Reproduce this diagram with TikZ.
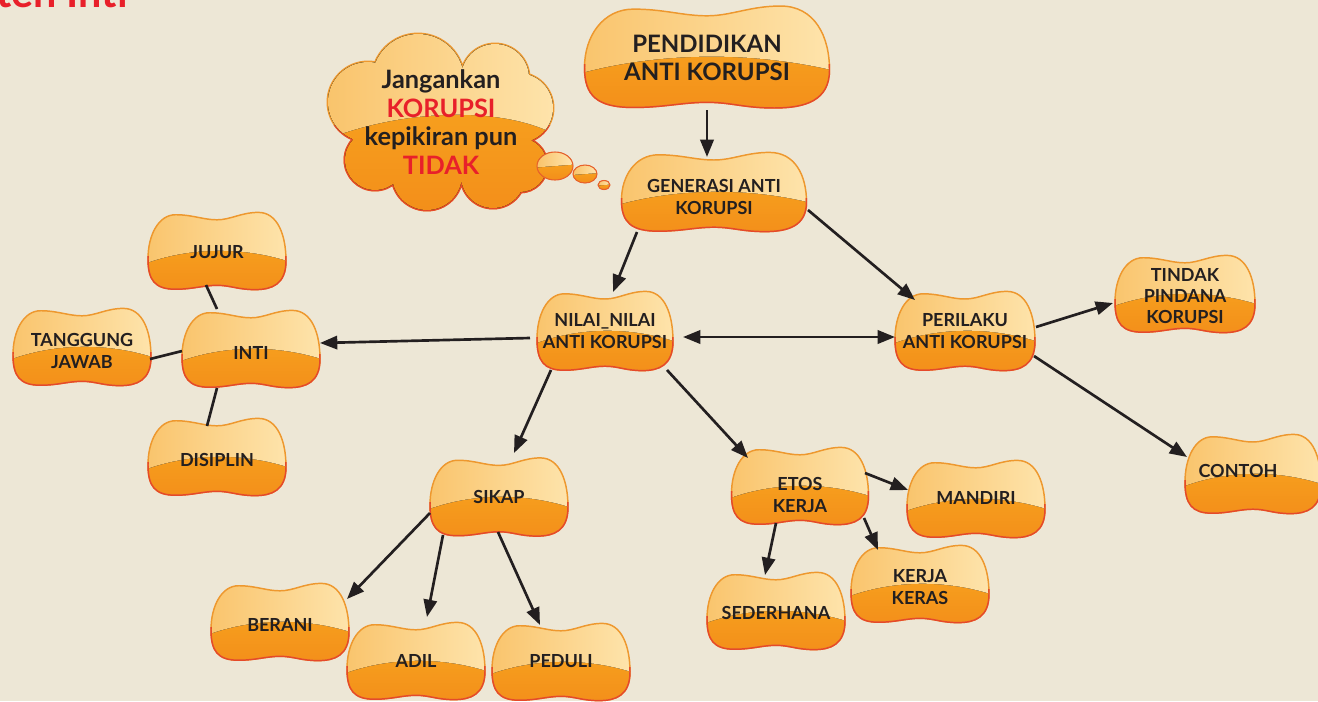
\documentclass[tikz,border=0pt]{standalone}
\usepackage{fontspec}
\setmainfont{Lato}
\usetikzlibrary{arrows.meta}

\definecolor{bg}{HTML}{EDE7D6}
\definecolor{ink}{HTML}{231F20}
\definecolor{alert}{HTML}{E8202A}
\definecolor{glossL}{HTML}{F9C36A}
\definecolor{glossR}{HTML}{FEE5AE}
\definecolor{bodyT}{HTML}{F9AC20}
\definecolor{bodyB}{HTML}{F38E1A}
\definecolor{rimT}{HTML}{EE982E}
\definecolor{rimB}{HTML}{E5492A}

% outline of a bean-shaped bubble in a unit box [-1,1]x[-1,1], y up
\def\blobP{(-1,-0.2) .. controls (-1,0.4) and (-0.85,0.93) .. (-0.6,0.93)
  .. controls (-0.35,0.93) and (-0.2,0.8) .. (0,0.8)
  .. controls (0.2,0.8) and (0.35,0.99) .. (0.6,0.99)
  .. controls (0.88,0.99) and (1,0.4) .. (1,-0.25)
  .. controls (1,-0.85) and (0.8,-0.99) .. (0.55,-0.99)
  .. controls (0.3,-0.99) and (0.2,-0.88) .. (0,-0.88)
  .. controls (-0.2,-0.88) and (-0.35,-0.98) .. (-0.6,-0.98)
  .. controls (-0.9,-0.98) and (-1,-0.75) .. (-1,-0.2) -- cycle}

% glossy bean bubble: centre x, centre y, width, height (pixels)
\newcommand\blob[4]{%
  \begin{scope}[shift={(#1,#2)},xscale=#3/2,yscale=-#4/2]
    \begin{scope}
      \clip \blobP;
      \fill[top color=bodyT,bottom color=bodyB] (-1.1,-1.1) rectangle (1.1,1.1);
      \fill[left color=glossL,right color=glossR]
        (-1.1,-0.36) .. controls (-0.4,0.12) and (0.4,0.12) .. (1.1,-0.3)
        -- (1.1,1.1) -- (-1.1,1.1) -- cycle;
    \end{scope}
    \draw[rimT,line width=1.1pt] \blobP;
    \begin{scope}
      \clip (-1.2,-0.15) rectangle (1.2,-1.2);
      \draw[rimB,line width=1.1pt] \blobP;
    \end{scope}
  \end{scope}}

% small glossy thought bubble: centre x, centre y, x radius, y radius
\newcommand\puff[4]{%
  \begin{scope}
    \clip (#1,#2) ellipse [x radius=#3,y radius=#4];
    \fill[top color=bodyT,bottom color=bodyB] (#1-#3,#2-#4) rectangle (#1+#3,#2+#4);
    \fill[left color=glossL,right color=glossR] (#1-#3,#2+0.1*#4) -- (#1+#3,#2-0.1*#4)
      -- (#1+#3,#2-#4) -- (#1-#3,#2-#4) -- cycle;
  \end{scope}
  \draw[rimB!70!rimT,line width=0.8pt] (#1,#2) ellipse [x radius=#3,y radius=#4];}

\tikzset{
  lbl/.style={text=ink,font=\bfseries\fontsize{13.5}{16}\selectfont,align=center,inner sep=0pt},
  biglbl/.style={lbl,font=\bfseries\fontsize{18}{21}\selectfont},
  arr/.style={draw=ink,line width=2pt,-{Triangle[length=13pt,width=10pt]}},
  twoarr/.style={draw=ink,line width=2pt,{Triangle[length=13pt,width=10pt]}-{Triangle[length=13pt,width=10pt]}},
  lnk/.style={draw=ink,line width=2pt}
}

\begin{document}
\begin{tikzpicture}[x=0.75pt,y=-0.75pt]
  \useasboundingbox (0,0) rectangle (1318,701);
  \fill[bg] (0,0) rectangle (1318,701);

  % heading, partly above the page edge
  \node[anchor=base west,inner sep=0pt,text=alert,font=\bfseries\fontsize{31}{31}\selectfont] (head) at (-4,7) {ten Inti};

  % thought cloud
  \def\cloudC{(368,102) circle [radius=40] (418,80) circle [radius=46]
    (495,78) circle [radius=34] (518,108) circle [radius=35]
    (520,165) circle [radius=27] (493,176) circle [radius=32]
    (427,175) circle [radius=35] (375,160) circle [radius=30]
    (445,125) ellipse [x radius=85,y radius=55]}
  \draw[rimT,line width=2.2pt] \cloudC;
  \begin{scope}
    \clip (300,125) rectangle (600,230);
    \draw[rimB,line width=2.2pt] \cloudC;
  \end{scope}
  \begin{scope}
    \clip \cloudC;
    \fill[top color=bodyT,bottom color=bodyB] (320,30) rectangle (565,215);
    \fill[left color=glossL,right color=glossR]
      (320,142) .. controls (400,108) and (510,104) .. (565,140)
      -- (565,30) -- (320,30) -- cycle;
  \end{scope}
  \puff{555}{166}{18}{14}
  \puff{585}{174}{12}{9}
  \puff{604}{185}{6}{4.5}
  \node[lbl,font=\bfseries\fontsize{19}{21.4}\selectfont] (cloud) at (441,122)
    {Jangankan\\\textcolor{alert}{KORUPSI}\\kepikiran pun\\\textcolor{alert}{TIDAK}};

  % bubbles
  \blob{707}{57}{245}{103}
  \blob{714}{192}{185}{80}
  \blob{605}{331}{136}{80}
  \blob{965}{331}{140}{80}
  \blob{1185}{294}{140}{78}
  \blob{1253}{474}{136}{80}
  \blob{251}{349}{138}{78}
  \blob{217}{251}{138}{78}
  \blob{82}{347}{138}{78}
  \blob{217}{457}{138}{78}
  \blob{499}{497}{138}{79}
  \blob{280}{622}{138}{78}
  \blob{416}{661}{138}{78}
  \blob{561}{662}{138}{78}
  \blob{800}{486}{137}{78}
  \blob{976}{499}{138}{78}
  \blob{920}{584}{138}{78}
  \blob{776}{611}{138}{78}

  % labels
  \node[biglbl] (pend) at (707,58) {PENDIDIKAN\\ANTI KORUPSI};
  \node[lbl] (gen) at (714,197) {GENERASI ANTI\\KORUPSI};
  \node[lbl] (nilai) at (605,331) {NILAI\_NILAI\\ANTI KORUPSI};
  \node[lbl] (peri) at (965,331) {PERILAKU\\ANTI KORUPSI};
  \node[lbl] (tindak) at (1185,296) {TINDAK\\PINDANA\\KORUPSI};
  \node[lbl] (contoh) at (1238,471) {CONTOH};
  \node[lbl] (inti) at (251,353) {INTI};
  \node[lbl] (jujur) at (217,252) {JUJUR};
  \node[lbl] (tang) at (82,351) {TANGGUNG\\JAWAB};
  \node[lbl] (disi) at (217,460) {DISIPLIN};
  \node[lbl] (sikap) at (499,497) {SIKAP};
  \node[lbl] (berani) at (280,625) {BERANI};
  \node[lbl] (adil) at (416,661) {ADIL};
  \node[lbl] (peduli) at (561,661) {PEDULI};
  \node[lbl] (etos) at (800,495) {ETOS\\KERJA};
  \node[lbl] (mandiri) at (976,498) {MANDIRI};
  \node[lbl] (keras) at (920,587) {KERJA\\KERAS};
  \node[lbl] (sed) at (776,613) {SEDERHANA};

  % connectors
  \draw[arr] ([shift={(0,52)}]pend.center) -- ([shift={(-7,-40)}]gen.center);
  \draw[arr] ([shift={(-77,35)}]gen.center) -- ([shift={(8,-39)}]nilai.center);
  \draw[arr] ([shift={(94,13)}]gen.center) -- ([shift={(-50,-31)}]peri.center);
  \draw[twoarr] ([shift={(78,6)}]nilai.center) -- ([shift={(-70,6)}]peri.center);
  \draw[arr] ([shift={(-75,7)}]nilai.center) -- ([shift={(69,-10)}]inti.center);
  \draw[arr] ([shift={(-54,39)}]nilai.center) -- ([shift={(15,-44)}]sikap.center);
  \draw[arr] ([shift={(62,39)}]nilai.center) -- ([shift={(-52,-37)}]etos.center);
  \draw[arr] ([shift={(71,-4)}]peri.center) -- ([shift={(-72,7)}]tindak.center);
  \draw[arr] ([shift={(69,25)}]peri.center) -- ([shift={(-51,-14)}]contoh.center);
  \draw[lnk] ([shift={(-11,33)}]jujur.center) -- ([shift={(-34,-44)}]inti.center);
  \draw[lnk] ([shift={(68,8)}]tang.center) -- ([shift={(-69,-2)}]inti.center);
  \draw[lnk] ([shift={(-34,35)}]inti.center) -- ([shift={(-10,-34)}]disi.center);
  \draw[arr] ([shift={(-69,16)}]sikap.center) -- ([shift={(67,-26)}]berani.center);
  \draw[arr] ([shift={(-56,38)}]sikap.center) -- ([shift={(11,-44)}]adil.center);
  \draw[arr] ([shift={(-1,35)}]sikap.center) -- ([shift={(-21,-36)}]peduli.center);
  \draw[arr] ([shift={(65,-22)}]etos.center) -- ([shift={(-68,-8)}]mandiri.center);
  \draw[arr] ([shift={(64,23)}]etos.center) -- ([shift={(-42,-37)}]keras.center);
  \draw[arr] ([shift={(-24,28)}]etos.center) -- ([shift={(-11,-38)}]sed.center);
\end{tikzpicture}
\end{document}
